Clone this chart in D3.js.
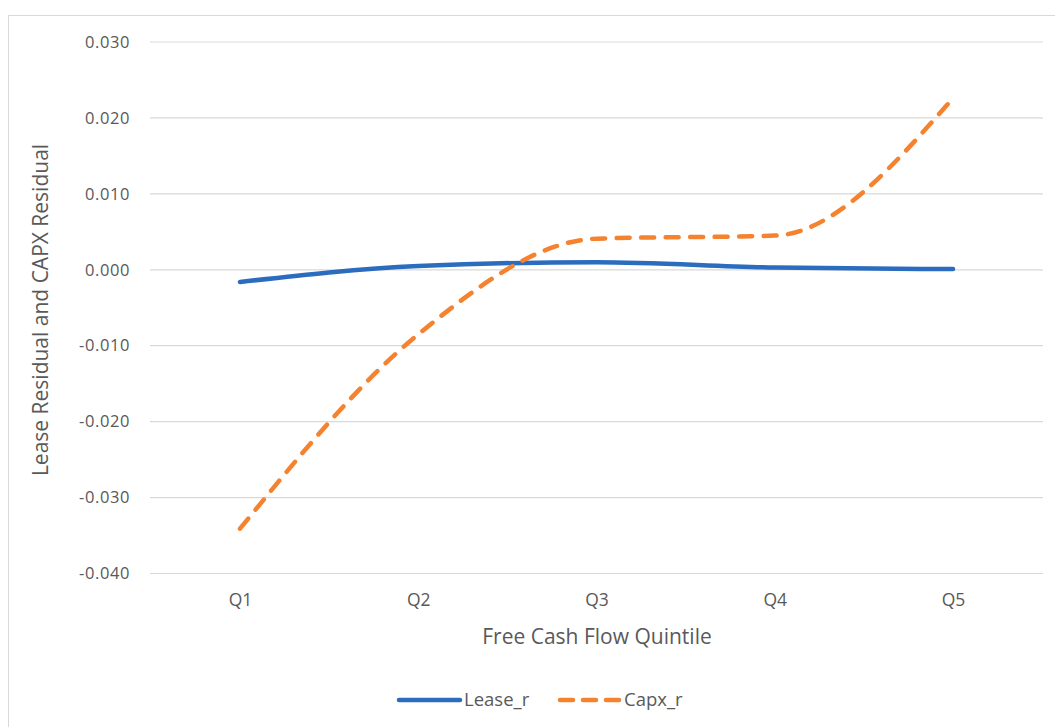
<!DOCTYPE html>
<html><head><meta charset="utf-8">
<script src="https://cdn.jsdelivr.net/npm/d3@7"></script>
<style>body{margin:0;background:#fff}svg{display:block;font-family:"Open Sans",sans-serif}</style>
</head><body>
<svg id="c" width="1055" height="727"></svg>
<script>
const categories = ["Q1","Q2","Q3","Q4","Q5"];
const leaseR = [-0.0016, 0.0005, 0.0010, 0.0003, 0.0001];
const capxR = [-0.0341, -0.0085, 0.0041, 0.0045, 0.0226];
const yTicks = [-0.04,-0.03,-0.02,-0.01,0,0.01,0.02,0.03];
const seriesNames = ["Lease_r","Capx_r"];

const svg = d3.select("#c");
svg.append("rect").attr("x",8.5).attr("y",15.5).attr("width",1060).attr("height",730)
  .attr("fill","#fff").attr("stroke","#d9d9d9");

const x = d3.scalePoint().domain(categories).range([240,953]);
const y = d3.scaleLinear().domain([-0.04,0.03]).range([573.5,42]);
const fmt = d => d3.format(".3f")(d).replace("\u2212","-");

const grid = svg.append("g");
grid.selectAll("line").data(yTicks).join("line")
  .attr("x1",150).attr("x2",1043).attr("y1",d=>y(d)).attr("y2",d=>y(d))
  .attr("stroke","#d9d9d9").attr("stroke-width",1.2);

const yAxis = svg.append("g").attr("transform","translate(150,0)")
  .call(d3.axisLeft(y).tickValues(yTicks).tickFormat(fmt).tickSize(0).tickPadding(20));
yAxis.select(".domain").remove();
yAxis.selectAll("text").attr("fill","#595959").style("font-size","16.5px")
  .style("letter-spacing","0.6px").style("font-family","'Open Sans',sans-serif");

const xAxis = svg.append("g").attr("transform","translate(0,573.5)")
  .call(d3.axisBottom(x).tickSize(0).tickPadding(20));
xAxis.select(".domain").remove();
xAxis.selectAll("text").attr("fill","#595959").style("font-size","17.5px")
  .style("font-family","'Open Sans',sans-serif");

svg.append("text").attr("transform","translate(48,310) rotate(-90)").attr("text-anchor","middle")
  .attr("fill","#595959").style("font-size","21px").text("Lease Residual and CAPX Residual");
svg.append("text").attr("x",597).attr("y",644).attr("text-anchor","middle")
  .attr("fill","#595959").style("font-size","21px").text("Free Cash Flow Quintile");

const line = d3.line().x((d,i)=>x(categories[i])).y(d=>y(d)).curve(d3.curveMonotoneX);
const colors = ["#2b6cbf","#f5822f"];
svg.append("path").attr("d",line(leaseR)).attr("fill","none").attr("stroke",colors[0])
  .attr("stroke-width",4.5).attr("stroke-linecap","round");
svg.append("path").attr("d",line(capxR)).attr("fill","none").attr("stroke",colors[1])
  .attr("stroke-width",4.5).attr("stroke-linecap","round").attr("stroke-dasharray","13,11.5");

// legend
const leg = [{x1:399,x2:460,tx:464},{x1:560,x2:620,tx:624}];
leg.forEach((l,i)=>{
  svg.append("line").attr("x1",l.x1).attr("x2",l.x2).attr("y1",700).attr("y2",700)
    .attr("stroke",colors[i]).attr("stroke-width",4.5).attr("stroke-linecap","round")
    .attr("stroke-dasharray",i===1?"13,10":null);
  svg.append("text").attr("x",l.tx).attr("y",706).attr("fill","#595959")
    .style("font-size","18.5px").text(seriesNames[i]);
});
</script>
</body></html>
